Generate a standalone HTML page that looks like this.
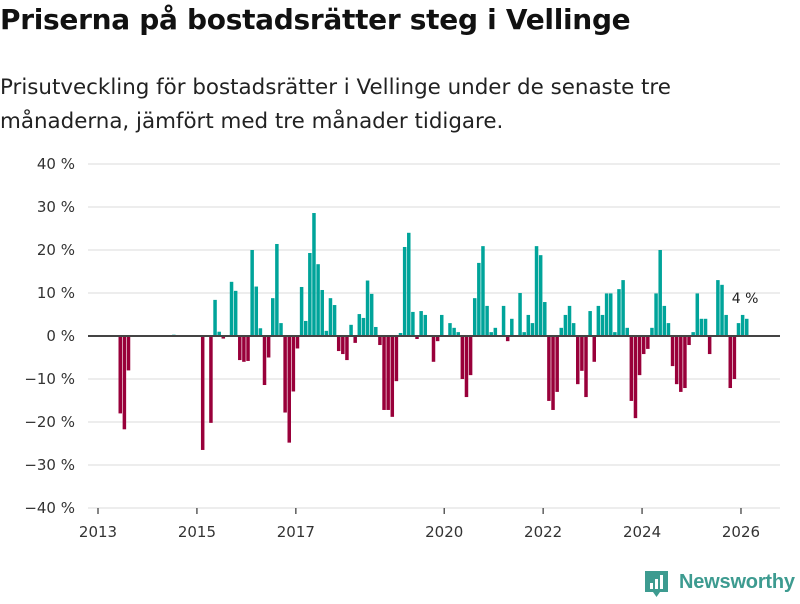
<!DOCTYPE html>
<html><head><meta charset="utf-8"><style>
body{margin:0;width:800px;height:600px;background:#fff;font-family:"DejaVu Sans","Liberation Sans",sans-serif;overflow:hidden;position:relative}
h1{position:absolute;left:0;top:3px;margin:0;font-size:28px;font-weight:bold;color:#111;letter-spacing:-0.3px}
p{position:absolute;left:0;top:71px;margin:0;font-size:21.4px;line-height:34px;color:#222;width:690px}
svg{position:absolute;left:0;top:0}
</style></head><body>
<h1>Priserna på bostadsrätter steg i Vellinge</h1>
<p>Prisutveckling för bostadsrätter i Vellinge under de senaste tre månaderna, jämfört med tre månader tidigare.</p>
<svg id="chart" width="800" height="600"></svg>
<div style="position:absolute;left:645px;top:570px;">
<svg width="160" height="30" style="position:static"><path d="M0 1h23v21h-8l-3.5 5-3.5-5h-8z" fill="#3d9b90"/><rect x="5" y="13" width="3" height="6" fill="#fff"/><rect x="10" y="9" width="3" height="10" fill="#fff"/><rect x="15" y="5" width="3" height="14" fill="#fff"/></svg>
<span style="position:absolute;left:34px;top:1px;font-family:'Liberation Sans',sans-serif;font-size:20px;font-weight:bold;color:#3d9b90;letter-spacing:-0.2px">Newsworthy</span></div>
<script>
const values=[-18,-21.7,-8,0,0,0,0,0,0,0,0,0,0,0.3,0,0,0,0,0,0,-26.5,0,-20.2,8.4,1,-0.6,0,12.6,10.5,-5.6,-6,-5.8,20,11.5,1.8,-11.4,-5,8.8,21.4,3,-17.8,-24.8,-12.9,-2.9,11.4,3.5,19.3,28.6,16.7,10.7,1.2,8.8,7.2,-3.5,-4.2,-5.6,2.6,-1.6,5.1,4.2,12.9,9.8,2.1,-2.1,-17.2,-17.2,-18.8,-10.5,0.7,20.7,24,5.6,-0.7,5.8,4.9,0,-6,-1.2,4.9,0,3,1.9,0.9,-10,-14.2,-9.1,8.8,17,20.9,7,0.9,1.9,0,7,-1.2,4,0,10,0.9,4.9,3,20.9,18.8,7.9,-15.1,-17.2,-13,1.9,4.9,7,3,-11.2,-8.1,-14.2,5.8,-6,7,4.9,9.9,9.9,0.9,10.9,13,1.9,-15.1,-19.1,-9.1,-4.2,-3,1.9,9.9,20,7,3,-7,-11.2,-13,-12.1,-2.1,0.9,9.9,4,4,-4.2,0,13,11.9,4.9,-12.1,-10,3,4.9,4];
const startYear=2013.45;
const yTicks=[40,30,20,10,0,-10,-20,-30,-40];
const xTicks=[2013,2015,2017,2020,2022,2024,2026];
const lastLabel="4 %";
const svg=document.getElementById('chart');
const NS='http://www.w3.org/2000/svg';
const x=t=>98+(t-2013)*49.46;
const y=v=>336-v*4.3;
function mk(tag,attrs){const e=document.createElementNS(NS,tag);for(const k in attrs)e.setAttribute(k,attrs[k]);svg.appendChild(e);return e;}
yTicks.forEach(v=>{
 const g=mk('line',{x1:88,x2:780,y1:y(v),y2:y(v),stroke:'#e2e2e2','stroke-width':1.3});
 
 
 const t=mk('text',{x:75,y:y(v)+5,'text-anchor':'end','font-size':15,fill:'#333','font-family':'DejaVu Sans, sans-serif'});
 t.textContent=(v<0?'\u2212'+(-v):v)+' %';
 
 
});
xTicks.forEach(yr=>{
 const l=mk('line',{x1:x(yr),x2:x(yr),y1:508,y2:514,stroke:'#444','stroke-width':1.3});
 
 
 const t=mk('text',{x:x(yr),y:537,'text-anchor':'middle','font-size':15,fill:'#333','font-family':'DejaVu Sans, sans-serif'});
 t.textContent=yr;
 
 
});
values.forEach((v,i)=>{
 if(v===0)return;
 const cx=x(startYear+i/12);
 const r=mk('rect',{x:cx-1.75,width:3.5,y:Math.min(y(v),y(0)),height:Math.abs(y(v)-y(0)),fill:v>0?'#00a49a':'#99003a'});
 
 
});
const z=mk('line',{x1:88,x2:780,y1:y(0),y2:y(0),stroke:'#444','stroke-width':2});


const lastX=x(startYear+(values.length-1)/12);
const lab=mk('text',{x:lastX-15,y:303,'font-size':14,fill:'#222','font-family':'DejaVu Sans, sans-serif'});
lab.textContent=lastLabel;


</script>
</body></html>
